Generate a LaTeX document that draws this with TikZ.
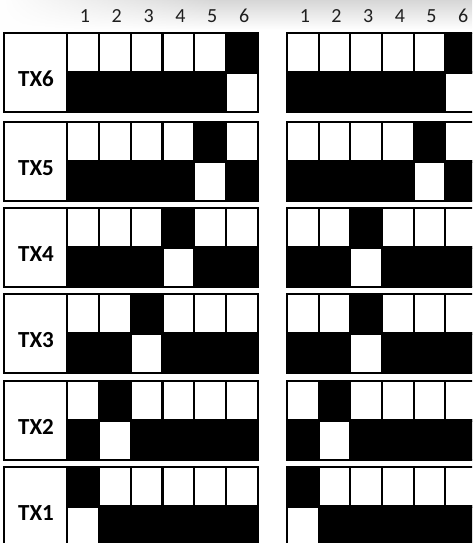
\documentclass[tikz,border=0pt]{standalone}
\usepackage{fontspec}
\setmainfont{Carlito}
\usetikzlibrary{fadings}
\tikzfading[name=fadeR, left color=transparent!0, right color=transparent!100]
\begin{document}
\begin{tikzpicture}[x=1pt,y=-1pt,
  cell/.style={draw=black,line width=2.2pt},
  oncell/.style={cell,fill=black},
  offcell/.style={cell,fill=white},
  lbl/.style={font=\fontsize{23}{23}\selectfont\bfseries, text=black},
  num/.style={font=\fontsize{20}{20}\selectfont, text=black!88}]
\useasboundingbox (0,0) rectangle (472,543);
\clip (0,0) rectangle (472,543);
% header shading
\shade[top color=gray!32, bottom color=white] (0,0) rectangle (472,30);
\fill[white, path fading=fadeR] (0,0) rectangle (220,30);
% column numbers
\foreach \k in {1,...,6} {
  \node[num] (nL\k) at ({67+31.83*(\k-0.5)+2},16) {\k};
  \node[num] (nR\k) at ({287+31.67*(\k-0.5)+2},16) {\k};
}
% blocks
\foreach \t/\n/\a/\b in {33/6/6/6,122/5/5/5,208/4/4/3,294/3/3/3,381/2/2/2,467/1/1/1} {
  \draw[offcell] (4,\t) rectangle (67,\t+79);
  \node[lbl] (lab\n) at (36,\t+46) {TX\n};
  \foreach \k in {1,...,6} {
    \pgfmathsetmacro\xa{67+31.83*(\k-1)}
    \pgfmathsetmacro\xb{67+31.83*\k}
    \pgfmathsetmacro\ra{287+31.67*(\k-1)}
    \pgfmathsetmacro\rb{287+31.67*\k}
    \ifnum\k=\a
      \draw[oncell] (\xa,\t) rectangle (\xb,\t+39.5);
      \draw[offcell] (\xa,\t+39.5) rectangle (\xb,\t+79);
    \else
      \draw[offcell] (\xa,\t) rectangle (\xb,\t+39.5);
      \draw[oncell] (\xa,\t+39.5) rectangle (\xb,\t+79);
    \fi
    \ifnum\k=\b
      \draw[oncell] (\ra,\t) rectangle (\rb,\t+39.5);
      \draw[offcell] (\ra,\t+39.5) rectangle (\rb,\t+79);
    \else
      \draw[offcell] (\ra,\t) rectangle (\rb,\t+39.5);
      \draw[oncell] (\ra,\t+39.5) rectangle (\rb,\t+79);
    \fi
  }
}
\end{tikzpicture}
\end{document}
